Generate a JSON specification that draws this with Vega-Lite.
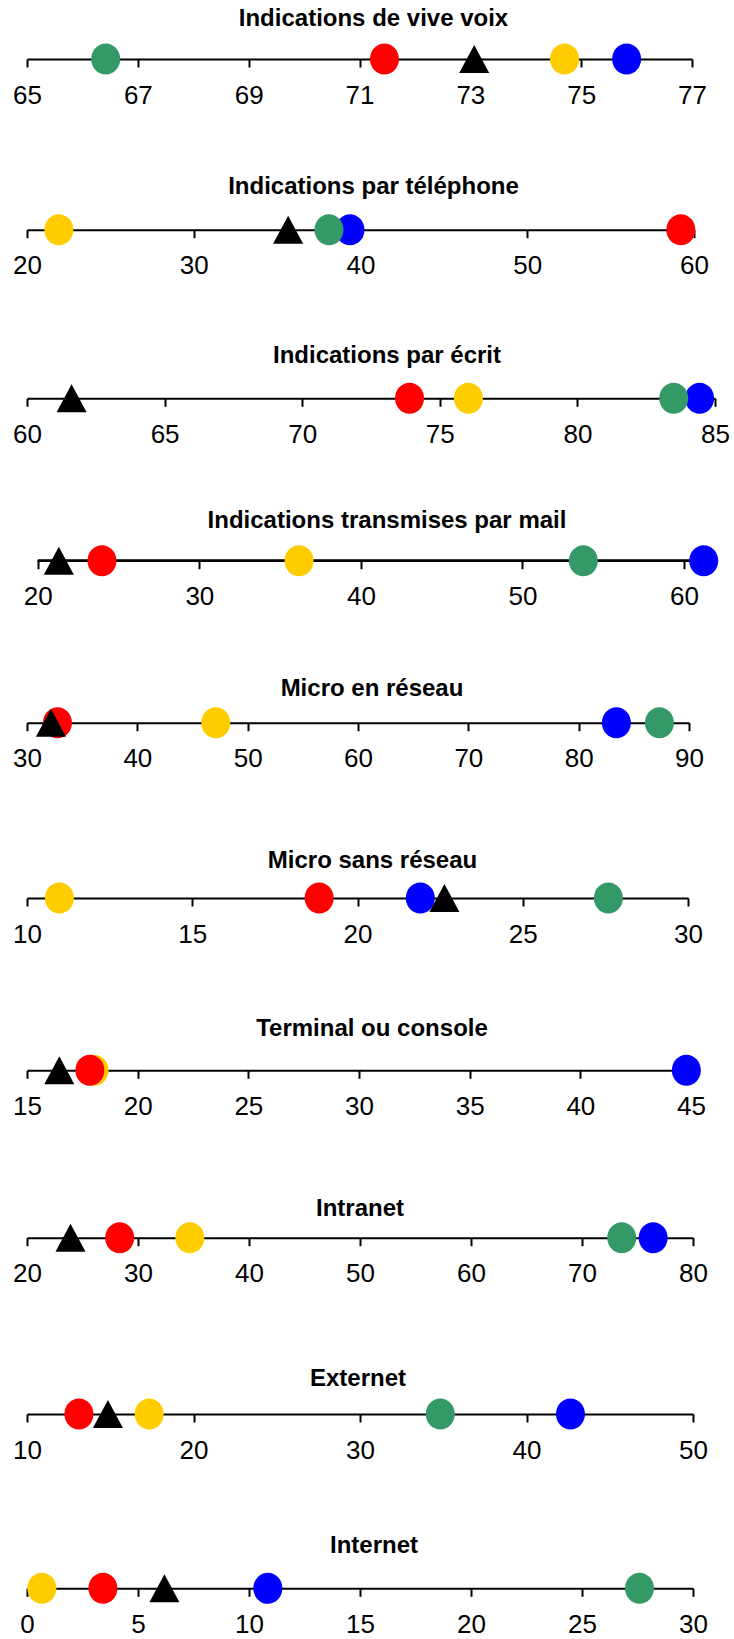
{
  "$schema": "https://vega.github.io/schema/vega-lite/v6.json",
  "background": "white",
  "padding": {"top": 7, "left": 12, "right": 2, "bottom": 2},
  "bounds": "flush",
  "spacing": 150,
  "data": {"values": [
    {"panel": "P1", "serie": "bleu", "valeur": 75.82},
    {"panel": "P1", "serie": "jaune", "valeur": 74.70},
    {"panel": "P1", "serie": "rouge", "valeur": 71.45},
    {"panel": "P1", "serie": "vert", "valeur": 66.42},
    {"panel": "P1", "serie": "ensemble", "valeur": 73.07},
    {"panel": "P2", "serie": "bleu", "valeur": 39.37},
    {"panel": "P2", "serie": "jaune", "valeur": 21.91},
    {"panel": "P2", "serie": "rouge", "valeur": 59.21},
    {"panel": "P2", "serie": "vert", "valeur": 38.11},
    {"panel": "P2", "serie": "ensemble", "valeur": 35.66},
    {"panel": "P3", "serie": "bleu", "valeur": 84.44},
    {"panel": "P3", "serie": "jaune", "valeur": 76.04},
    {"panel": "P3", "serie": "rouge", "valeur": 73.90},
    {"panel": "P3", "serie": "vert", "valeur": 83.50},
    {"panel": "P3", "serie": "ensemble", "valeur": 61.62},
    {"panel": "P4", "serie": "bleu", "valeur": 61.22},
    {"panel": "P4", "serie": "jaune", "valeur": 36.17},
    {"panel": "P4", "serie": "rouge", "valeur": 23.97},
    {"panel": "P4", "serie": "vert", "valeur": 53.77},
    {"panel": "P4", "serie": "ensemble", "valeur": 21.30},
    {"panel": "P5", "serie": "bleu", "valeur": 83.42},
    {"panel": "P5", "serie": "jaune", "valeur": 47.11},
    {"panel": "P5", "serie": "rouge", "valeur": 32.76},
    {"panel": "P5", "serie": "vert", "valeur": 87.32},
    {"panel": "P5", "serie": "ensemble", "valeur": 32.17},
    {"panel": "P6", "serie": "bleu", "valeur": 21.90},
    {"panel": "P6", "serie": "jaune", "valeur": 10.98},
    {"panel": "P6", "serie": "rouge", "valeur": 18.84},
    {"panel": "P6", "serie": "vert", "valeur": 27.59},
    {"panel": "P6", "serie": "ensemble", "valeur": 22.63},
    {"panel": "P7", "serie": "bleu", "valeur": 44.79},
    {"panel": "P7", "serie": "jaune", "valeur": 18.03},
    {"panel": "P7", "serie": "rouge", "valeur": 17.84},
    {"panel": "P7", "serie": "ensemble", "valeur": 16.46},
    {"panel": "P8", "serie": "bleu", "valeur": 76.41},
    {"panel": "P8", "serie": "jaune", "valeur": 34.67},
    {"panel": "P8", "serie": "rouge", "valeur": 28.35},
    {"panel": "P8", "serie": "vert", "valeur": 73.58},
    {"panel": "P8", "serie": "ensemble", "valeur": 23.92},
    {"panel": "P9", "serie": "bleu", "valeur": 42.64},
    {"panel": "P9", "serie": "jaune", "valeur": 17.34},
    {"panel": "P9", "serie": "rouge", "valeur": 13.12},
    {"panel": "P9", "serie": "vert", "valeur": 34.82},
    {"panel": "P9", "serie": "ensemble", "valeur": 14.86},
    {"panel": "P10", "serie": "bleu", "valeur": 10.85},
    {"panel": "P10", "serie": "jaune", "valeur": 0.67},
    {"panel": "P10", "serie": "rouge", "valeur": 3.42},
    {"panel": "P10", "serie": "vert", "valeur": 27.59},
    {"panel": "P10", "serie": "ensemble", "valeur": 6.19}
  ]},
  "resolve": {"scale": {"x": "independent", "y": "independent"}},
  "config": {
    "view": {"stroke": null},
    "title": {"font": "Liberation Sans", "fontSize": 24, "fontWeight": "bold", "color": "black", "anchor": "middle"},
    "axis": {"domainColor": "black", "domainWidth": 2, "tickColor": "black", "tickWidth": 2, "tickSize": 8, "labelFont": "Liberation Sans", "labelFontSize": 26, "labelColor": "black", "labelPadding": 15, "grid": false, "title": null, "labelFlush": false, "labelOverlap": false},
    "point": {"filled": true, "opacity": 1, "size": 660, "strokeWidth": 0}
  },
  "vconcat": [
    {
      "title": {"text": "Indications de vive voix", "offset": 7.8, "dx": 14},
      "width": 665, "height": 20,
      "transform": [{"filter": "datum.panel === 'P1'"}],
      "mark": {"type": "point"},
      "encoding": {
        "x": {"field": "valeur", "type": "quantitative", "scale": {"domain": [65, 77], "nice": false, "zero": false}, "axis": {"values": [65, 67, 69, 71, 73, 75, 77]}},
        "y": {"datum": 0, "type": "quantitative", "scale": {"domain": [0, 1]}, "axis": null},
        "color": {"field": "serie", "type": "nominal", "scale": {"domain": ["bleu", "jaune", "rouge", "vert", "ensemble"], "range": ["#0000FF", "#FFCC00", "#FF0000", "#339966", "#000000"]}, "legend": null},
        "shape": {"field": "serie", "type": "nominal", "scale": {"domain": ["bleu", "jaune", "rouge", "vert", "ensemble"], "range": ["M-1.13,0A1.13,1.21 0 1,1 1.13,0A1.13,1.21 0 1,1 -1.13,0Z", "M-1.13,0A1.13,1.21 0 1,1 1.13,0A1.13,1.21 0 1,1 -1.13,0Z", "M-1.13,0A1.13,1.21 0 1,1 1.13,0A1.13,1.21 0 1,1 -1.13,0Z", "M-1.13,0A1.13,1.21 0 1,1 1.13,0A1.13,1.21 0 1,1 -1.13,0Z", "M0,-1.09L1.17,1.09L-1.17,1.09Z"]}, "legend": null}
      }
    },
    {
      "title": {"text": "Indications par téléphone", "offset": 10.4, "dx": 13},
      "width": 667, "height": 20.7,
      "transform": [{"filter": "datum.panel === 'P2'"}],
      "mark": {"type": "point"},
      "encoding": {
        "x": {"field": "valeur", "type": "quantitative", "scale": {"domain": [20, 60], "nice": false, "zero": false}, "axis": {"values": [20, 30, 40, 50, 60]}},
        "y": {"datum": 0, "type": "quantitative", "scale": {"domain": [0, 1]}, "axis": null},
        "color": {"field": "serie", "type": "nominal", "scale": {"domain": ["bleu", "jaune", "rouge", "vert", "ensemble"], "range": ["#0000FF", "#FFCC00", "#FF0000", "#339966", "#000000"]}, "legend": null},
        "shape": {"field": "serie", "type": "nominal", "scale": {"domain": ["bleu", "jaune", "rouge", "vert", "ensemble"], "range": ["M-1.13,0A1.13,1.21 0 1,1 1.13,0A1.13,1.21 0 1,1 -1.13,0Z", "M-1.13,0A1.13,1.21 0 1,1 1.13,0A1.13,1.21 0 1,1 -1.13,0Z", "M-1.13,0A1.13,1.21 0 1,1 1.13,0A1.13,1.21 0 1,1 -1.13,0Z", "M-1.13,0A1.13,1.21 0 1,1 1.13,0A1.13,1.21 0 1,1 -1.13,0Z", "M0,-1.09L1.17,1.09L-1.17,1.09Z"]}, "legend": null}
      }
    },
    {
      "title": {"text": "Indications par écrit", "offset": 12, "dx": 16},
      "width": 688, "height": 18.3,
      "transform": [{"filter": "datum.panel === 'P3'"}],
      "mark": {"type": "point"},
      "encoding": {
        "x": {"field": "valeur", "type": "quantitative", "scale": {"domain": [60, 85], "nice": false, "zero": false}, "axis": {"values": [60, 65, 70, 75, 80, 85]}},
        "y": {"datum": 0, "type": "quantitative", "scale": {"domain": [0, 1]}, "axis": null},
        "color": {"field": "serie", "type": "nominal", "scale": {"domain": ["bleu", "jaune", "rouge", "vert", "ensemble"], "range": ["#0000FF", "#FFCC00", "#FF0000", "#339966", "#000000"]}, "legend": null},
        "shape": {"field": "serie", "type": "nominal", "scale": {"domain": ["bleu", "jaune", "rouge", "vert", "ensemble"], "range": ["M-1.13,0A1.13,1.21 0 1,1 1.13,0A1.13,1.21 0 1,1 -1.13,0Z", "M-1.13,0A1.13,1.21 0 1,1 1.13,0A1.13,1.21 0 1,1 -1.13,0Z", "M-1.13,0A1.13,1.21 0 1,1 1.13,0A1.13,1.21 0 1,1 -1.13,0Z", "M-1.13,0A1.13,1.21 0 1,1 1.13,0A1.13,1.21 0 1,1 -1.13,0Z", "M0,-1.09L1.17,1.09L-1.17,1.09Z"]}, "legend": null}
      }
    },
    {
      "title": {"text": "Indications transmises par mail", "offset": 12.6, "dx": 21},
      "width": 678, "height": 11.7,
      "transform": [{"filter": "datum.panel === 'P4'"}],
      "layer": [
        {
          "mark": {"type": "rule", "color": "black", "strokeWidth": 2},
          "encoding": {
            "x": {"datum": 20, "type": "quantitative"},
            "x2": {"datum": 61.3},
            "y": {"datum": 0, "type": "quantitative"}
          }
        },
        {
          "mark": {"type": "point"},
          "encoding": {
            "x": {"field": "valeur", "type": "quantitative"},
            "y": {"datum": 0, "type": "quantitative"},
            "color": {"field": "serie", "type": "nominal", "scale": {"domain": ["bleu", "jaune", "rouge", "vert", "ensemble"], "range": ["#0000FF", "#FFCC00", "#FF0000", "#339966", "#000000"]}, "legend": null},
            "shape": {"field": "serie", "type": "nominal", "scale": {"domain": ["bleu", "jaune", "rouge", "vert", "ensemble"], "range": ["M-1.13,0A1.13,1.21 0 1,1 1.13,0A1.13,1.21 0 1,1 -1.13,0Z", "M-1.13,0A1.13,1.21 0 1,1 1.13,0A1.13,1.21 0 1,1 -1.13,0Z", "M-1.13,0A1.13,1.21 0 1,1 1.13,0A1.13,1.21 0 1,1 -1.13,0Z", "M-1.13,0A1.13,1.21 0 1,1 1.13,0A1.13,1.21 0 1,1 -1.13,0Z", "M0,-1.09L1.17,1.09L-1.17,1.09Z"]}, "legend": null}
          }
        }
      ],
      "encoding": {
        "x": {"type": "quantitative", "scale": {"domain": [19.33, 61.3], "nice": false, "zero": false}, "axis": {"values": [20, 30, 40, 50, 60], "domain": false}},
        "y": {"type": "quantitative", "scale": {"domain": [0, 1]}, "axis": null}
      }
    },
    {
      "title": {"text": "Micro en réseau", "offset": 6.6, "dx": 14},
      "width": 662, "height": 11.7,
      "transform": [{"filter": "datum.panel === 'P5'"}],
      "mark": {"type": "point"},
      "encoding": {
        "x": {"field": "valeur", "type": "quantitative", "scale": {"domain": [30, 90], "nice": false, "zero": false}, "axis": {"values": [30, 40, 50, 60, 70, 80, 90]}},
        "y": {"datum": 0, "type": "quantitative", "scale": {"domain": [0, 1]}, "axis": null},
        "color": {"field": "serie", "type": "nominal", "scale": {"domain": ["bleu", "jaune", "rouge", "vert", "ensemble"], "range": ["#0000FF", "#FFCC00", "#FF0000", "#339966", "#000000"]}, "legend": null},
        "shape": {"field": "serie", "type": "nominal", "scale": {"domain": ["bleu", "jaune", "rouge", "vert", "ensemble"], "range": ["M-1.13,0A1.13,1.21 0 1,1 1.13,0A1.13,1.21 0 1,1 -1.13,0Z", "M-1.13,0A1.13,1.21 0 1,1 1.13,0A1.13,1.21 0 1,1 -1.13,0Z", "M-1.13,0A1.13,1.21 0 1,1 1.13,0A1.13,1.21 0 1,1 -1.13,0Z", "M-1.13,0A1.13,1.21 0 1,1 1.13,0A1.13,1.21 0 1,1 -1.13,0Z", "M0,-1.09L1.17,1.09L-1.17,1.09Z"]}, "legend": null}
      }
    },
    {
      "title": {"text": "Micro sans réseau", "offset": 0, "dx": 15},
      "width": 661, "height": 25,
      "transform": [{"filter": "datum.panel === 'P6'"}],
      "mark": {"type": "point"},
      "encoding": {
        "x": {"field": "valeur", "type": "quantitative", "scale": {"domain": [10, 30], "nice": false, "zero": false}, "axis": {"values": [10, 15, 20, 25, 30]}},
        "y": {"datum": 0, "type": "quantitative", "scale": {"domain": [0, 1]}, "axis": null},
        "color": {"field": "serie", "type": "nominal", "scale": {"domain": ["bleu", "jaune", "rouge", "vert", "ensemble"], "range": ["#0000FF", "#FFCC00", "#FF0000", "#339966", "#000000"]}, "legend": null},
        "shape": {"field": "serie", "type": "nominal", "scale": {"domain": ["bleu", "jaune", "rouge", "vert", "ensemble"], "range": ["M-1.13,0A1.13,1.21 0 1,1 1.13,0A1.13,1.21 0 1,1 -1.13,0Z", "M-1.13,0A1.13,1.21 0 1,1 1.13,0A1.13,1.21 0 1,1 -1.13,0Z", "M-1.13,0A1.13,1.21 0 1,1 1.13,0A1.13,1.21 0 1,1 -1.13,0Z", "M-1.13,0A1.13,1.21 0 1,1 1.13,0A1.13,1.21 0 1,1 -1.13,0Z", "M0,-1.09L1.17,1.09L-1.17,1.09Z"]}, "legend": null}
      }
    },
    {
      "title": {"text": "Terminal ou console", "offset": 6.7, "dx": 13},
      "width": 664, "height": 22.3,
      "transform": [{"filter": "datum.panel === 'P7'"}],
      "mark": {"type": "point"},
      "encoding": {
        "x": {"field": "valeur", "type": "quantitative", "scale": {"domain": [15, 45], "nice": false, "zero": false}, "axis": {"values": [15, 20, 25, 30, 35, 40, 45]}},
        "y": {"datum": 0, "type": "quantitative", "scale": {"domain": [0, 1]}, "axis": null},
        "color": {"field": "serie", "type": "nominal", "scale": {"domain": ["bleu", "jaune", "rouge", "vert", "ensemble"], "range": ["#0000FF", "#FFCC00", "#FF0000", "#339966", "#000000"]}, "legend": null},
        "shape": {"field": "serie", "type": "nominal", "scale": {"domain": ["bleu", "jaune", "rouge", "vert", "ensemble"], "range": ["M-1.13,0A1.13,1.21 0 1,1 1.13,0A1.13,1.21 0 1,1 -1.13,0Z", "M-1.13,0A1.13,1.21 0 1,1 1.13,0A1.13,1.21 0 1,1 -1.13,0Z", "M-1.13,0A1.13,1.21 0 1,1 1.13,0A1.13,1.21 0 1,1 -1.13,0Z", "M-1.13,0A1.13,1.21 0 1,1 1.13,0A1.13,1.21 0 1,1 -1.13,0Z", "M0,-1.09L1.17,1.09L-1.17,1.09Z"]}, "legend": null}
      }
    },
    {
      "title": {"text": "Intranet", "offset": 0, "dx": 0},
      "width": 666, "height": 16.7,
      "transform": [{"filter": "datum.panel === 'P8'"}],
      "mark": {"type": "point"},
      "encoding": {
        "x": {"field": "valeur", "type": "quantitative", "scale": {"domain": [20, 80], "nice": false, "zero": false}, "axis": {"values": [20, 30, 40, 50, 60, 70, 80]}},
        "y": {"datum": 0, "type": "quantitative", "scale": {"domain": [0, 1]}, "axis": null},
        "color": {"field": "serie", "type": "nominal", "scale": {"domain": ["bleu", "jaune", "rouge", "vert", "ensemble"], "range": ["#0000FF", "#FFCC00", "#FF0000", "#339966", "#000000"]}, "legend": null},
        "shape": {"field": "serie", "type": "nominal", "scale": {"domain": ["bleu", "jaune", "rouge", "vert", "ensemble"], "range": ["M-1.13,0A1.13,1.21 0 1,1 1.13,0A1.13,1.21 0 1,1 -1.13,0Z", "M-1.13,0A1.13,1.21 0 1,1 1.13,0A1.13,1.21 0 1,1 -1.13,0Z", "M-1.13,0A1.13,1.21 0 1,1 1.13,0A1.13,1.21 0 1,1 -1.13,0Z", "M-1.13,0A1.13,1.21 0 1,1 1.13,0A1.13,1.21 0 1,1 -1.13,0Z", "M0,-1.09L1.17,1.09L-1.17,1.09Z"]}, "legend": null}
      }
    },
    {
      "title": {"text": "Externet", "offset": -3.3, "dx": -2},
      "width": 666, "height": 26,
      "transform": [{"filter": "datum.panel === 'P9'"}],
      "mark": {"type": "point"},
      "encoding": {
        "x": {"field": "valeur", "type": "quantitative", "scale": {"domain": [10, 50], "nice": false, "zero": false}, "axis": {"values": [10, 20, 30, 40, 50]}},
        "y": {"datum": 0, "type": "quantitative", "scale": {"domain": [0, 1]}, "axis": null},
        "color": {"field": "serie", "type": "nominal", "scale": {"domain": ["bleu", "jaune", "rouge", "vert", "ensemble"], "range": ["#0000FF", "#FFCC00", "#FF0000", "#339966", "#000000"]}, "legend": null},
        "shape": {"field": "serie", "type": "nominal", "scale": {"domain": ["bleu", "jaune", "rouge", "vert", "ensemble"], "range": ["M-1.13,0A1.13,1.21 0 1,1 1.13,0A1.13,1.21 0 1,1 -1.13,0Z", "M-1.13,0A1.13,1.21 0 1,1 1.13,0A1.13,1.21 0 1,1 -1.13,0Z", "M-1.13,0A1.13,1.21 0 1,1 1.13,0A1.13,1.21 0 1,1 -1.13,0Z", "M-1.13,0A1.13,1.21 0 1,1 1.13,0A1.13,1.21 0 1,1 -1.13,0Z", "M0,-1.09L1.17,1.09L-1.17,1.09Z"]}, "legend": null}
      }
    },
    {
      "title": {"text": "Internet", "offset": 6.3, "dx": 14},
      "width": 666, "height": 24.3,
      "transform": [{"filter": "datum.panel === 'P10'"}],
      "mark": {"type": "point"},
      "encoding": {
        "x": {"field": "valeur", "type": "quantitative", "scale": {"domain": [0, 30], "nice": false, "zero": false}, "axis": {"values": [0, 5, 10, 15, 20, 25, 30]}},
        "y": {"datum": 0, "type": "quantitative", "scale": {"domain": [0, 1]}, "axis": null},
        "color": {"field": "serie", "type": "nominal", "scale": {"domain": ["bleu", "jaune", "rouge", "vert", "ensemble"], "range": ["#0000FF", "#FFCC00", "#FF0000", "#339966", "#000000"]}, "legend": null},
        "shape": {"field": "serie", "type": "nominal", "scale": {"domain": ["bleu", "jaune", "rouge", "vert", "ensemble"], "range": ["M-1.13,0A1.13,1.21 0 1,1 1.13,0A1.13,1.21 0 1,1 -1.13,0Z", "M-1.13,0A1.13,1.21 0 1,1 1.13,0A1.13,1.21 0 1,1 -1.13,0Z", "M-1.13,0A1.13,1.21 0 1,1 1.13,0A1.13,1.21 0 1,1 -1.13,0Z", "M-1.13,0A1.13,1.21 0 1,1 1.13,0A1.13,1.21 0 1,1 -1.13,0Z", "M0,-1.09L1.17,1.09L-1.17,1.09Z"]}, "legend": null}
      }
    }
  ]
}
